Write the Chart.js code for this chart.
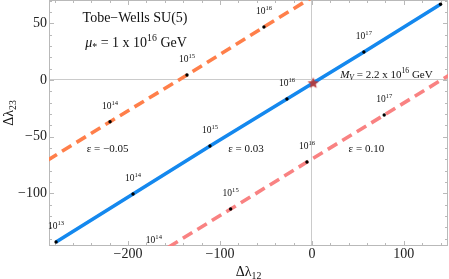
<!DOCTYPE html>
<html><head><meta charset="utf-8">
<script src="https://cdn.jsdelivr.net/npm/chart.js@4.4.1/dist/chart.umd.min.js"></script>
<style>html,body{margin:0;padding:0;background:#fff;}canvas{display:block;}</style>
</head><body>
<canvas id="c" width="449" height="279"></canvas>
<script>
// ---- data ----
const exponentsBlue = [13, 14, 15, 16, 17, 18];
const blueX = [-278.3, -194.6, -110.9, -27.2, 56.5, 139.9];
const blueY = [-143.0, -100.6, -58.3, -16.8, 24.7, 66.8];
const exponentsOrange = [13, 14, 15, 16, 17];
const orangeX = [-303.3, -219.6, -135.9, -52.2, 31.5];
const orangeY = [-78.7, -36.8, 4.4, 46.8, 88.7];
const exponentsPink = [14, 15, 16, 17, 18];
const pinkX = [-171.9, -88.4, -5.4, 78.6, 162.0];
const pinkY = [-155.4, -113.9, -72.4, -30.9, 10.6];
const starX = [1.4];
const starY = [-2.9];
const xTicks = [-200, -100, 0, 100];
const yTicks = [-100, -50, 0, 50];
const xRange = [-286, 148];
const yRange = [-146.5, 70.6];

const SERIF = '"Liberation Serif","DejaVu Serif",serif';

// text annotations (anchored in data coordinates)
const notes = [
  {x: -192.4, y: 55.6, size: 14, parts: [['Tobe\u2212Wells SU(5)', 'n']]},
  {x: -191.3, y: 33.5, size: 14, parts: [['\u03bc', 'i'], ['*', 'sub'], [' = 1 x 10', 'n'], ['16', 'sup'], [' GeV', 'n']]},
  {x: -222.3, y: -60, size: 11, parts: [['\u03b5 = \u22120.05', 'n']]},
  {x: -71.7, y: -60, size: 11, parts: [['\u03b5 = 0.03', 'n']]},
  {x: 59.2, y: -60, size: 11, parts: [['\u03b5 = 0.10', 'n']]},
  {x: 81, y: 5.3, size: 11, parts: [['M', 'i'], ['V', 'isub'], [' = 2.2 x 10', 'n'], ['16', 'sup'], [' GeV', 'n']]}
];

function fontFor(role, size) {
  let s = size, style = '';
  if (role === 'sup' || role === 'sub' || role === 'isub') s = size * 0.7;
  if (role === 'i' || role === 'isub') style = 'italic ';
  return {font: style + s.toFixed(1) + 'px ' + SERIF, s};
}
function drawRich(ctx, parts, cx, cy, size) {
  let W = 0;
  const m = parts.map(([t, r]) => {
    const f = fontFor(r, size);
    ctx.font = f.font;
    const w = ctx.measureText(t).width;
    W += w;
    return {t, r, f, w};
  });
  let x = cx - W / 2;
  const base = cy + size * 0.33;
  ctx.textBaseline = 'alphabetic';
  ctx.textAlign = 'left';
  m.forEach(p => {
    ctx.font = p.f.font;
    let y = base;
    if (p.r === 'sup') y = base - size * 0.4;
    if (p.r === 'sub' || p.r === 'isub') y = base + size * 0.22;
    ctx.fillText(p.t, x, y);
    x += p.w;
  });
}

function makeStar(r, color) {
  const c = document.createElement('canvas');
  const s = Math.ceil(r * 2 + 2);
  c.width = s; c.height = s;
  const g = c.getContext('2d');
  g.fillStyle = color;
  g.beginPath();
  for (let i = 0; i < 10; i++) {
    const a = -Math.PI / 2 + i * Math.PI / 5;
    const rr = i % 2 ? r * 0.45 : r;
    g.lineTo(s / 2 + rr * Math.cos(a), s / 2 + rr * Math.sin(a));
  }
  g.closePath();
  g.fill();
  return c;
}

const pts = (xs, ys) => xs.map((x, i) => ({x, y: ys[i]}));

const series = [
  {data: pts(blueX, blueY), exps: exponentsBlue, color: '#1488ee', dash: []},
  {data: pts(orangeX, orangeY), exps: exponentsOrange, color: '#ff7f4a', dash: [11, 6]},
  {data: pts(pinkX, pinkY), exps: exponentsPink, color: '#f98282', dash: [11, 6]}
];

const framePlugin = {
  id: 'frame',
  beforeDatasetsDraw(chart) {
    const {ctx, chartArea: a, scales: {x, y}} = chart;
    ctx.save();
    ctx.strokeStyle = '#b9b9b9';
    ctx.lineWidth = 1;
    ctx.strokeRect(a.left + 0.5, a.top + 0.5, a.right - a.left - 1, a.bottom - a.top - 1);
    ctx.beginPath();
    for (let v = Math.ceil(x.min / 20) * 20; v <= x.max; v += 20) {
      const px = Math.round(x.getPixelForValue(v)) + 0.5;
      const len = v % 100 === 0 ? 5 : 3;
      ctx.moveTo(px, a.bottom); ctx.lineTo(px, a.bottom - len);
      ctx.moveTo(px, a.top); ctx.lineTo(px, a.top + len);
    }
    for (let v = Math.ceil(y.min / 10) * 10; v <= y.max; v += 10) {
      const py = Math.round(y.getPixelForValue(v)) + 0.5;
      const len = v % 50 === 0 ? 5 : 3;
      ctx.moveTo(a.left, py); ctx.lineTo(a.left + len, py);
      ctx.moveTo(a.right, py); ctx.lineTo(a.right - len, py);
    }
    ctx.stroke();
    ctx.restore();
  },
  afterDatasetsDraw(chart) {
    const {ctx, chartArea: a, scales: {x, y}} = chart;
    ctx.save();
    ctx.fillStyle = '#111';
    // energy-scale labels above each point
    series.forEach(s => {
      s.data.forEach((p, i) => {
        const px = x.getPixelForValue(p.x);
        const py = y.getPixelForValue(p.y) - 16;
        if (px < a.left || px > a.right || py < a.top || py > a.bottom) return;
        drawRich(ctx, [['10', 'n'], [String(s.exps[i]), 'sup']], px, py, 9.5);
      });
    });
    notes.forEach(n => {
      drawRich(ctx, n.parts, x.getPixelForValue(n.x), y.getPixelForValue(n.y), n.size);
    });
    // axis titles
    drawRich(ctx, [['\u0394\u03bb', 'n'], ['12', 'sub']], (a.left + a.right) / 2, a.bottom + 25, 14);
    ctx.translate(8, (a.top + a.bottom) / 2 - 10);
    ctx.rotate(-Math.PI / 2);
    drawRich(ctx, [['\u0394\u03bb', 'n'], ['23', 'sub']], 0, 0, 14);
    ctx.restore();
  }
};

const datasets = series.map((s, k) => ({
  data: s.data,
  showLine: true,
  borderColor: s.color,
  borderWidth: 3.6,
  borderDash: s.dash,
  borderCapStyle: 'butt',
  pointRadius: 1.7,
  pointBackgroundColor: '#000',
  pointBorderWidth: 0,
  pointHoverRadius: 0,
  clip: 0,
  order: k === 0 ? 1 : 2
}));
datasets.push({
  data: pts(starX, starY),
  showLine: false,
  pointStyle: makeStar(6, 'rgba(185,55,55,0.92)'),
  pointRadius: 6,
  clip: 0,
  order: 0
});

const tickFont = {family: SERIF, size: 14};
const minus = v => String(v).replace('-', '\u2212');

new Chart(document.getElementById('c'), {
  type: 'scatter',
  data: {datasets},
  options: {
    responsive: false,
    animation: false,
    devicePixelRatio: 1,
    layout: {autoPadding: false, padding: {top: 0, right: 1, left: 0, bottom: 0}},
    plugins: {legend: {display: false}, tooltip: {enabled: false}},
    scales: {
      x: {
        type: 'linear', min: xRange[0], max: xRange[1],
        afterBuildTicks: s => { s.ticks = xTicks.map(v => ({value: v})); },
        afterFit: s => { s.height = 33; s.paddingLeft = 0; s.paddingRight = 0; },
        ticks: {font: tickFont, color: '#222', padding: 0, callback: minus, maxRotation: 0, autoSkip: false},
        grid: {drawTicks: false, color: c => (c.tick && c.tick.value === 0 ? '#cbcbcb' : 'rgba(0,0,0,0)'), lineWidth: 1},
        border: {display: false}
      },
      y: {
        type: 'linear', min: yRange[0], max: yRange[1],
        afterBuildTicks: s => { s.ticks = yTicks.map(v => ({value: v})); },
        afterFit: s => { s.width = 49; s.paddingTop = 0; s.paddingBottom = 0; },
        ticks: {font: tickFont, color: '#222', padding: 2, callback: minus, autoSkip: false},
        grid: {drawTicks: false, color: c => (c.tick && c.tick.value === 0 ? '#cbcbcb' : 'rgba(0,0,0,0)'), lineWidth: 1},
        border: {display: false}
      }
    }
  },
  plugins: [framePlugin]
});
</script>
</body></html>
